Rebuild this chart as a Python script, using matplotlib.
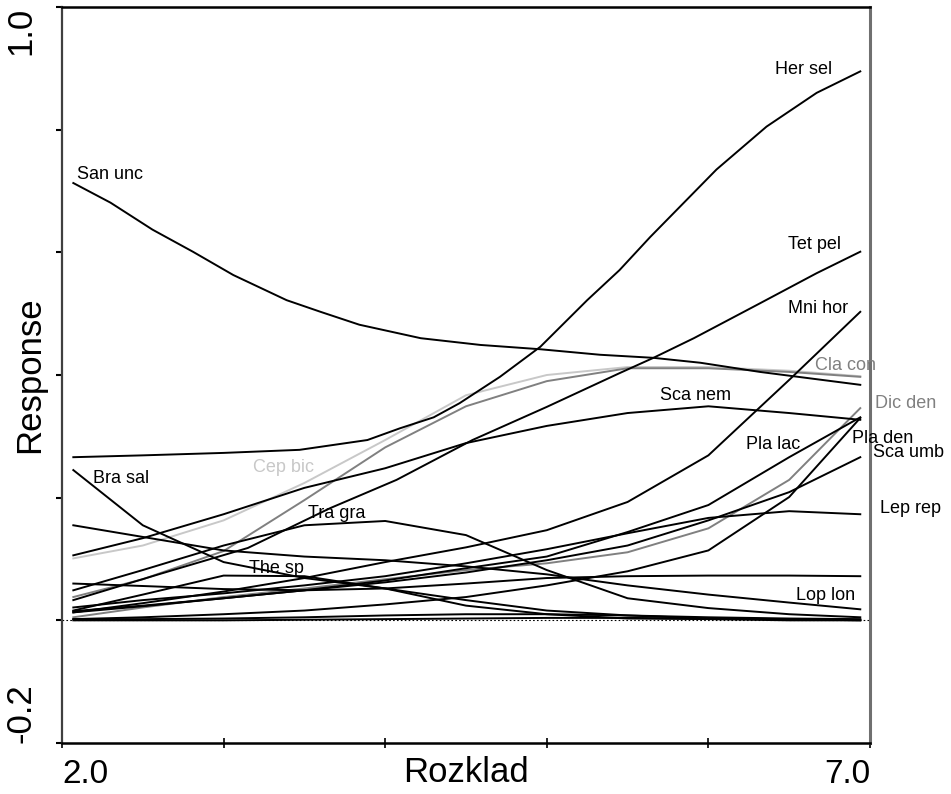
import matplotlib
matplotlib.use("Agg")
import matplotlib.pyplot as plt

plt.rcParams["font.family"] = ["Liberation Sans", "DejaVu Sans"]

# gradient positions (Rozklad) where most curves were read
XS = [2.07, 2.5, 3.0, 3.5, 4.0, 4.5, 5.0, 5.5, 6.0, 6.5, 6.94]

# a few curves were read at more points
SAN_UNC_X = [2.07, 2.30, 2.56, 2.81, 3.06, 3.39, 3.60, 3.84, 4.22, 4.59, 4.96, 5.33, 5.66, 5.95, 6.32, 6.94]
SAN_UNC = [0.713, 0.681, 0.637, 0.601, 0.563, 0.522, 0.503, 0.482, 0.460, 0.449, 0.442, 0.433, 0.428, 0.420, 0.405, 0.384]
HER_SEL_X = [2.07, 2.50, 3.00, 3.47, 3.89, 4.09, 4.30, 4.46, 4.71, 4.96, 5.25, 5.45, 5.64, 6.05, 6.36, 6.67, 6.94]
HER_SEL = [0.266, 0.269, 0.273, 0.278, 0.294, 0.313, 0.331, 0.354, 0.397, 0.446, 0.522, 0.571, 0.625, 0.735, 0.805, 0.860, 0.895]
TET_PEL_X = [2.07, 2.61, 3.15, 3.66, 4.07, 4.54, 5.00, 5.45, 5.66, 5.91, 6.32, 6.67, 6.94]
TET_PEL = [0.033, 0.076, 0.118, 0.183, 0.229, 0.294, 0.348, 0.403, 0.428, 0.460, 0.517, 0.566, 0.601]

MNI_HOR = [0.013, 0.028, 0.047, 0.069, 0.095, 0.119, 0.147, 0.193, 0.269, 0.392, 0.503]
SCA_NEM = [0.106, 0.134, 0.173, 0.216, 0.248, 0.289, 0.317, 0.338, 0.349, 0.338, 0.327]
CEP_BIC = [0.101, 0.122, 0.163, 0.224, 0.294, 0.367, 0.400, 0.413, 0.413, 0.407, 0.398]
CLA_CON = [0.038, 0.067, 0.113, 0.196, 0.282, 0.349, 0.390, 0.411, 0.411, 0.405, 0.397]
BRA_SAL = [0.245, 0.155, 0.095, 0.069, 0.052, 0.024, 0.010, 0.003, 0.002, 0.000, 0.000]
THE_SP = [0.016, 0.042, 0.073, 0.072, 0.052, 0.033, 0.016, 0.008, 0.003, 0.002, 0.000]
TRA_GRA = [0.049, 0.082, 0.122, 0.155, 0.162, 0.139, 0.082, 0.036, 0.020, 0.010, 0.005]
LOP_LON = [0.155, 0.136, 0.114, 0.104, 0.098, 0.088, 0.075, 0.057, 0.042, 0.029, 0.018]
FLAT_SP = [0.060, 0.056, 0.051, 0.049, 0.052, 0.060, 0.069, 0.072, 0.073, 0.073, 0.072]
LEP_REP = [0.021, 0.033, 0.044, 0.057, 0.072, 0.093, 0.116, 0.142, 0.167, 0.178, 0.173]
SCA_UMB = [0.015, 0.024, 0.036, 0.049, 0.062, 0.078, 0.098, 0.122, 0.163, 0.209, 0.266]
PLA_LAC = [0.013, 0.023, 0.036, 0.049, 0.065, 0.085, 0.104, 0.144, 0.188, 0.266, 0.331]
DIC_DEN = [0.005, 0.021, 0.038, 0.052, 0.067, 0.082, 0.093, 0.111, 0.150, 0.229, 0.346]
PLA_DEN = [0.002, 0.005, 0.010, 0.016, 0.026, 0.038, 0.057, 0.080, 0.114, 0.201, 0.330]
LOW_A = [0.002, 0.002, 0.003, 0.005, 0.008, 0.010, 0.010, 0.008, 0.005, 0.003, 0.002]
LOW_B = [0.000, 0.000, 0.000, 0.001, 0.002, 0.003, 0.004, 0.004, 0.003, 0.002, 0.001]

# species labels: name, x, y, colour
LABELS = [
    ("San unc", 2.09, 0.727, "black"),
    ("Her sel", 6.41, 0.898, "black"),
    ("Tet pel", 6.49, 0.612, "black"),
    ("Mni hor", 6.49, 0.509, "black"),
    ("Cla con", 6.66, 0.415, "#808080"),
    ("Sca nem", 5.70, 0.366, "black"),
    ("Dic den", 7.03, 0.353, "#808080"),
    ("Pla lac", 6.23, 0.287, "black"),
    ("Pla den", 6.89, 0.297, "black"),
    ("Sca umb", 7.02, 0.273, "black"),
    ("Lep rep", 7.06, 0.183, "black"),
    ("Lop lon", 6.54, 0.041, "black"),
    ("Bra sal", 2.19, 0.232, "black"),
    ("Cep bic", 3.18, 0.250, "#c8c8c8"),
    ("Tra gra", 3.52, 0.175, "black"),
    ("The sp", 3.16, 0.085, "black"),
]

BLACK = "black"
GRAY = "#808080"
LIGHT = "#c8c8c8"

curves = [
    (XS, CEP_BIC, LIGHT), (XS, CLA_CON, GRAY), (XS, DIC_DEN, GRAY),
    (SAN_UNC_X, SAN_UNC, BLACK), (HER_SEL_X, HER_SEL, BLACK), (TET_PEL_X, TET_PEL, BLACK),
    (XS, MNI_HOR, BLACK), (XS, SCA_NEM, BLACK), (XS, BRA_SAL, BLACK), (XS, THE_SP, BLACK),
    (XS, TRA_GRA, BLACK), (XS, LOP_LON, BLACK), (XS, FLAT_SP, BLACK), (XS, LEP_REP, BLACK),
    (XS, SCA_UMB, BLACK), (XS, PLA_LAC, BLACK), (XS, PLA_DEN, BLACK),
    (XS, LOW_A, BLACK), (XS, LOW_B, BLACK),
]

fig = plt.figure(figsize=(9.51, 7.94), dpi=100)
ax = fig.add_axes([0.0652, 0.0642, 0.8496, 0.927])

for xs, ys, col in curves:
    ax.plot(xs, ys, color=col, lw=1.4, solid_joinstyle="round")

ax.axhline(0, color="black", lw=0.8, ls=(0, (1.5, 2)))

for name, x, y, col in LABELS:
    ax.text(x, y, name, color=col, fontsize=13, ha="left", va="center", clip_on=False)

ax.set_xlim(2.0, 7.0)
ax.set_ylim(-0.2, 1.0)
ax.set_xticks([2, 3, 4, 5, 6, 7])
ax.set_xticklabels(["2.0", "", "", "", "", "7.0"], fontsize=24)
ax.get_xticklabels()[0].set_ha("left")
ax.get_xticklabels()[-1].set_ha("right")
ax.set_yticks([-0.2, 0.0, 0.2, 0.4, 0.6, 0.8, 1.0])
ax.set_yticklabels(["-0.2", "", "", "", "", "", "1.0"], fontsize=25, rotation=90)
ax.get_yticklabels()[0].set_va("bottom")
ax.get_yticklabels()[-1].set_va("top")
ax.tick_params(axis="x", direction="inout", length=7, width=1.2, pad=8)
ax.tick_params(axis="y", direction="out", length=4, width=1.5, pad=14)

ax.set_xlabel("Rozklad", fontsize=25)
ax.xaxis.set_label_coords(0.5, -0.040)
ax.xaxis.label.set_va("center")
ax.set_ylabel("Response", fontsize=25)
ax.yaxis.set_label_coords(-0.04, 0.5)
ax.yaxis.label.set_va("center")

ax.spines["left"].set_color("#404040")
ax.spines["left"].set_linewidth(1.6)
ax.spines["right"].set_color("#707070")
ax.spines["right"].set_linewidth(2.2)
ax.spines["top"].set_linewidth(1.8)
ax.spines["bottom"].set_linewidth(1.8)

fig.savefig("out.png", dpi=100)
